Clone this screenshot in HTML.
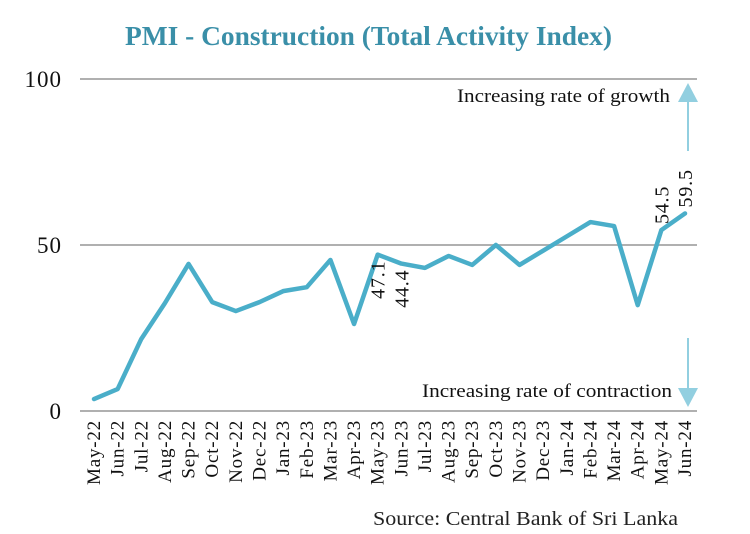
<!DOCTYPE html>
<html><head><meta charset="utf-8"><style>
body{margin:0;background:#fff;width:750px;height:529px;overflow:hidden;font-family:"Liberation Serif",serif}
</style></head><body>
<svg id="chart" width="750" height="529" xmlns="http://www.w3.org/2000/svg">
<text x="125" y="45" textLength="487" lengthAdjust="spacingAndGlyphs" font-family="Liberation Serif, serif" font-weight="bold" font-size="27" fill="#3a8fa8">PMI - Construction (Total Activity Index)</text>
<g id="grid"></g><g id="ann"></g><g id="xl"></g><g id="series"></g>
<text x="373" y="525" textLength="305" lengthAdjust="spacingAndGlyphs" font-size="20" fill="#222">Source: Central Bank of Sri Lanka</text>
</svg>
<script>
const categories=["May-22","Jun-22","Jul-22","Aug-22","Sep-22","Oct-22","Nov-22","Dec-22","Jan-23","Feb-23","Mar-23","Apr-23","May-23","Jun-23","Jul-23","Aug-23","Sep-23","Oct-23","Nov-23","Dec-23","Jan-24","Feb-24","Mar-24","Apr-24","May-24","Jun-24"];
const pmiValues=[3.6,6.6,21.7,32.5,44.3,32.8,30.1,32.8,36.1,37.3,45.5,26.2,47.1,44.4,43.1,46.7,44.0,50.0,44.0,48.3,52.6,56.9,55.7,31.9,54.5,59.5];
const yTicks=[0,50,100];
const labeledIdx=[12,13,24,25];
const NS="http://www.w3.org/2000/svg";
const x=i=>94+i*(685-94)/(categories.length-1);
const y=v=>411-v*3.32;
function el(t,a,p){const e=document.createElementNS(NS,t);for(const k in a)e.setAttribute(k,a[k]);p.appendChild(e);return e;}
const g=document.getElementById('grid');
yTicks.forEach(t=>{
 const l=el('line',{x1:80,x2:697,y1:y(t),y2:y(t),stroke:'#b0b0b0','stroke-width':2},g);
 
 
 const tx=el('text',{x:62,y:y(t)+8,'text-anchor':'end','font-size':23,'letter-spacing':1,fill:'#111'},g);
 tx.textContent=t;
 
 
});
const xl=document.getElementById('xl');
categories.forEach((c,i)=>{
 const t=el('text',{transform:`translate(${x(i)+6},420) rotate(-90)`,'text-anchor':'end','font-size':19,'letter-spacing':0.8,fill:'#111'},xl);
 t.textContent=c;
 
 
});
const s=document.getElementById('series');
const pl=el('polyline',{points:pmiValues.map((v,i)=>x(i)+','+y(v)).join(' '),fill:'none',stroke:'#4aaec9','stroke-width':4.5,'stroke-linejoin':'round','stroke-linecap':'round'},s);


labeledIdx.forEach(i=>{
 const up=i>=24;
 const t=el('text',{transform:up?`translate(${x(i)+7},${y(pmiValues[i])-6}) rotate(-90)`:`translate(${x(i)+7},${y(pmiValues[i])+6}) rotate(-90)`,'text-anchor':up?'start':'end','font-size':20,'letter-spacing':0.8,fill:'#111'},s);
 t.textContent=pmiValues[i].toFixed(1);
 
 
});
const a=document.getElementById('ann');
el('line',{x1:688,x2:688,y1:100,y2:151,stroke:'#92cfe0','stroke-width':2},a);
el('polygon',{points:'678,102 698,102 688,83',fill:'#92cfe0'},a);
el('line',{x1:688,x2:688,y1:338,y2:390,stroke:'#92cfe0','stroke-width':2},a);
el('polygon',{points:'678,388 698,388 688,407',fill:'#92cfe0'},a);
const t1=el('text',{x:457,y:102,textLength:213,lengthAdjust:'spacingAndGlyphs','font-size':19,fill:'#111'},a);t1.textContent='Increasing rate of growth';


const t2=el('text',{x:422,y:397,textLength:250,lengthAdjust:'spacingAndGlyphs','font-size':19,fill:'#111'},a);t2.textContent='Increasing rate of contraction';


</script>
</body></html>
